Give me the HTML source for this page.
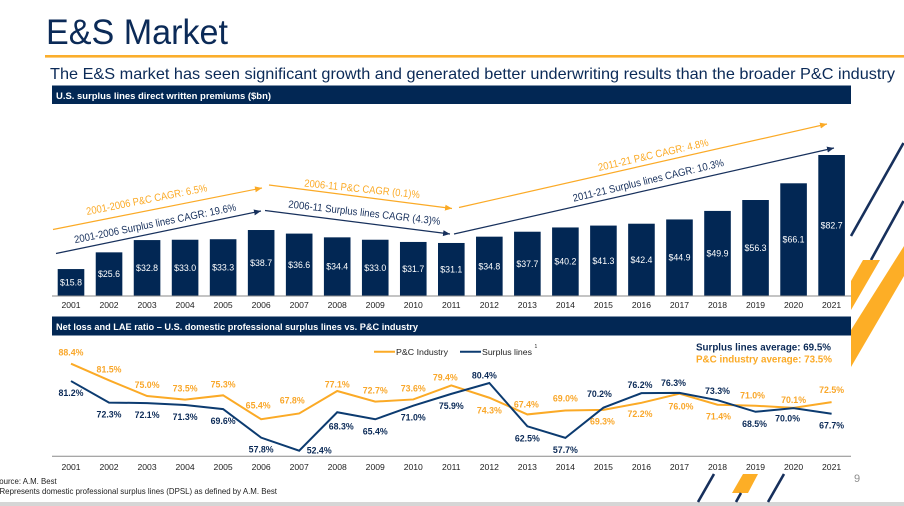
<!DOCTYPE html>
<html lang="en">
<head>
<meta charset="utf-8">
<title>E&amp;S Market</title>
<style>
html,body{margin:0;padding:0;background:#fff;width:904px;height:506px;overflow:hidden}
svg{display:block;font-family:"Liberation Sans",Arial,sans-serif;filter:blur(0.3px)}
</style>
</head>
<body>
<svg id="slide" xmlns="http://www.w3.org/2000/svg" width="904" height="506" viewBox="0 0 904 506">
  <defs>
    <marker id="head-orange" markerUnits="userSpaceOnUse" markerWidth="8" markerHeight="7" refX="7" refY="3" orient="auto"><path d="M0,0 L7,3 L0,6 Z" fill="#FBAA26"/></marker>
    <marker id="head-navy" markerUnits="userSpaceOnUse" markerWidth="8" markerHeight="7" refX="7" refY="3" orient="auto"><path d="M0,0 L7,3 L0,6 Z" fill="#17305C"/></marker>
  </defs>

  <rect x="0" y="502" width="904" height="4" fill="#D6D6D6"/>

  <g>
    <line x1="851" y1="236" x2="903.5" y2="143" stroke="#17305C" stroke-width="2.6"/>
    <line x1="871" y1="260" x2="903.5" y2="201" stroke="#17305C" stroke-width="2.6"/>
    <polygon points="863,260 880,260 851,310 851,281" fill="#FDAE26"/>
    <polygon points="904,246 904,276 851,367 851,330" fill="#FDAE26"/>
    <line x1="714" y1="474" x2="698" y2="502" stroke="#17305C" stroke-width="2.6"/>
    <polygon points="743,474 758,474 748,493 732,493" fill="#FDAE26"/>
    <line x1="741" y1="493" x2="736" y2="502" stroke="#17305C" stroke-width="2.6"/>
    <line x1="784" y1="474" x2="768" y2="502" stroke="#17305C" stroke-width="2.6"/>
  </g>

  <text x="46" y="44" font-size="35" fill="#0B2A57" textLength="182" lengthAdjust="spacingAndGlyphs">E&amp;S Market</text>
  <rect x="45" y="55" width="859" height="2.6" fill="#FBAE2C"/>
  <text x="50" y="79" font-size="16" fill="#0B2A57" textLength="845" lengthAdjust="spacingAndGlyphs">The E&amp;S market has seen significant growth and generated better underwriting results than the broader P&amp;C industry</text>

  <rect x="52" y="85.5" width="799" height="18.5" fill="#022754"/>
  <text x="56" y="99" font-size="9.5" font-weight="bold" fill="#fff" textLength="215" lengthAdjust="spacingAndGlyphs">U.S. surplus lines direct written premiums ($bn)</text>

  <g id="bars-layer"></g>
  <line x1="52" y1="296" x2="851" y2="296" stroke="#8A8A8A" stroke-width="1"/>

  <g font-size="10.5">
    <line x1="53" y1="229.5" x2="262" y2="188" stroke="#FBAA26" stroke-width="1.2" marker-end="url(#head-orange)"/>
    <line x1="56" y1="253.5" x2="261" y2="211" stroke="#17305C" stroke-width="1.2" marker-end="url(#head-navy)"/>
    <line x1="269" y1="185" x2="452" y2="208.5" stroke="#FBAA26" stroke-width="1.2" marker-end="url(#head-orange)"/>
    <line x1="265" y1="210.5" x2="450" y2="234" stroke="#17305C" stroke-width="1.2" marker-end="url(#head-navy)"/>
    <line x1="459" y1="207.5" x2="827" y2="124" stroke="#FBAA26" stroke-width="1.2" marker-end="url(#head-orange)"/>
    <line x1="454" y1="234" x2="834" y2="148" stroke="#17305C" stroke-width="1.2" marker-end="url(#head-navy)"/>
    <text transform="translate(87,215) rotate(-11.2)" fill="#FBAA26" textLength="123" lengthAdjust="spacingAndGlyphs">2001-2006 P&amp;C CAGR: 6.5%</text>
    <text transform="translate(75,243.3) rotate(-11.5)" fill="#17305C" textLength="165" lengthAdjust="spacingAndGlyphs">2001-2006 Surplus lines CAGR: 19.6%</text>
    <text transform="translate(304,186.5) rotate(5.8)" fill="#FBAA26" textLength="116" lengthAdjust="spacingAndGlyphs">2006-11 P&amp;C CAGR (0.1)%</text>
    <text transform="translate(288,207.5) rotate(6.5)" fill="#17305C" textLength="153" lengthAdjust="spacingAndGlyphs">2006-11 Surplus lines CAGR (4.3)%</text>
    <text transform="translate(599,171) rotate(-13)" fill="#FBAA26" textLength="113" lengthAdjust="spacingAndGlyphs">2011-21 P&amp;C CAGR: 4.8%</text>
    <text transform="translate(573.7,201.7) rotate(-13.4)" fill="#17305C" textLength="155" lengthAdjust="spacingAndGlyphs">2011-21 Surplus lines CAGR: 10.3%</text>
  </g>

  <rect x="52" y="316.5" width="799" height="19" fill="#022754"/>
  <text x="56" y="330" font-size="9.5" font-weight="bold" fill="#fff" textLength="362" lengthAdjust="spacingAndGlyphs">Net loss and LAE ratio – U.S. domestic professional surplus lines vs. P&amp;C industry</text>

  <g font-size="8.6" fill="#222">
    <line x1="374" y1="351.7" x2="395" y2="351.7" stroke="#FBAA26" stroke-width="2"/>
    <text x="396" y="354.8" textLength="52" lengthAdjust="spacingAndGlyphs">P&amp;C Industry</text>
    <line x1="460" y1="351.7" x2="481" y2="351.7" stroke="#0C3B70" stroke-width="2"/>
    <text x="482" y="354.8" textLength="50" lengthAdjust="spacingAndGlyphs">Surplus lines</text>
    <text x="534.5" y="348" font-size="5">1</text>
  </g>
  <text x="696" y="350.7" font-size="10.4" font-weight="bold" fill="#0B2A57" textLength="135" lengthAdjust="spacingAndGlyphs">Surplus lines average: 69.5%</text>
  <text x="696" y="362.7" font-size="10.4" font-weight="bold" fill="#FBAA26" textLength="136" lengthAdjust="spacingAndGlyphs">P&amp;C industry average: 73.5%</text>

  <g id="lines-layer"></g>
  <line x1="52" y1="456.3" x2="851" y2="456.3" stroke="#8A8A8A" stroke-width="1"/>

  <text x="-6" y="484" font-size="8.4" fill="#222" textLength="62.7" lengthAdjust="spacingAndGlyphs">Source: A.M. Best</text>
  <text x="-0.5" y="494" font-size="8.4" fill="#222" textLength="277.5" lengthAdjust="spacingAndGlyphs">Represents domestic professional surplus lines (DPSL) as defined by A.M. Best</text>
  <text x="854" y="482" font-size="11" fill="#8C8C8C">9</text>
</svg>
<script>
const years = ['2001','2002','2003','2004','2005','2006','2007','2008','2009','2010','2011','2012','2013','2014','2015','2016','2017','2018','2019','2020','2021'];
const premiums = [15.8,25.6,32.8,33.0,33.3,38.7,36.6,34.4,33.0,31.7,31.1,34.8,37.7,40.2,41.3,42.4,44.9,49.9,56.3,66.1,82.7];
const pcRatio = [88.4,81.5,75.0,73.5,75.3,65.4,67.8,77.1,72.7,73.6,79.4,74.3,67.4,69.0,69.3,72.2,76.0,71.4,71.0,70.1,72.5];
const surplusRatio = [81.2,72.3,72.1,71.3,69.6,57.8,52.4,68.3,65.4,71.0,75.9,80.4,62.5,57.7,70.2,76.2,76.3,73.3,68.5,70.0,67.7];

const NS = 'http://www.w3.org/2000/svg';
const xAt = i => 71 + i * 38.03;
const barY = v => 296 - v * 1.705;
const lineY = v => 450.7 - (v - 52.4) * 2.418;

function node(tag, parent, attrs, content) {
  const el = document.createElementNS(NS, tag);
  Object.keys(attrs).forEach(k => el.setAttribute(k, attrs[k]));
  if (content !== undefined) el.textContent = content;
  parent.appendChild(el);
  return el;
}

function drawBars() {
  const layer = document.getElementById('bars-layer');
  premiums.forEach((v, i) => {
    const top = barY(v);
    const bar = node('rect', layer, {x: xAt(i) - 13.3, y: top, width: 26.6, height: 296 - top, fill: '#022754'});
    
    
    const label = node('text', layer, {x: xAt(i), y: (top + 296) / 2 + 3, 'font-size': 8.8, fill: '#fff', 'text-anchor': 'middle'}, '$' + v.toFixed(1));
    
    
    const tick = node('text', layer, {x: xAt(i), y: 308, 'font-size': 8.6, fill: '#222', 'text-anchor': 'middle'}, years[i]);
    
    
  });
}

function drawSeries(values, color, textColor, key, nudges, defaultDy) {
  const layer = document.getElementById('lines-layer');
  const pts = values.map((v, i) => xAt(i) + ',' + lineY(v)).join(' ');
  const line = node('polyline', layer, {points: pts, fill: 'none', stroke: color, 'stroke-width': 2, 'stroke-linejoin': 'miter'});
  
  
  values.forEach((v, i) => {
    const n = nudges[years[i]] || [0, defaultDy];
    const label = node('text', layer, {x: xAt(i) + n[0], y: lineY(v) + n[1], 'font-size': 8.8, 'font-weight': 'bold', fill: textColor, 'text-anchor': 'middle'}, v.toFixed(1) + '%');
    
    
  });
}

function drawLines() {
  const layer = document.getElementById('lines-layer');
  const pcNudges = {
    2006: [-3, -11], 2007: [-7, -10], 2008: [0, -3.6], 2011: [-6, -5],
    2012: [0, 15.6], 2013: [-1, -7], 2014: [0, -9], 2015: [-1, 14.5],
    2016: [-1.5, 14], 2017: [1.5, 15.7], 2018: [1, 14.5], 2019: [-3, -7],
    2020: [0, -5], 2021: [0, -9]
  };
  const surplusNudges = {
    2007: [20, 3], 2008: [4, 17], 2012: [-5, -4.6], 2015: [-4, -10.7],
    2016: [-1.5, -5], 2017: [-6, -7], 2018: [0, -6], 2019: [-1, 15],
    2020: [-6, 13.6]
  };
  drawSeries(pcRatio, '#FBAA26', '#F9A72A', 'pc', pcNudges, -8);
  drawSeries(surplusRatio, '#0C3B70', '#0B2A57', 'surplus', surplusNudges, 15);
  years.forEach((y, i) => {
    const tick = node('text', layer, {x: xAt(i), y: 470, 'font-size': 8.6, fill: '#222', 'text-anchor': 'middle'}, y);
    
    
  });
}

drawBars();
drawLines();
</script>
</body>
</html>
